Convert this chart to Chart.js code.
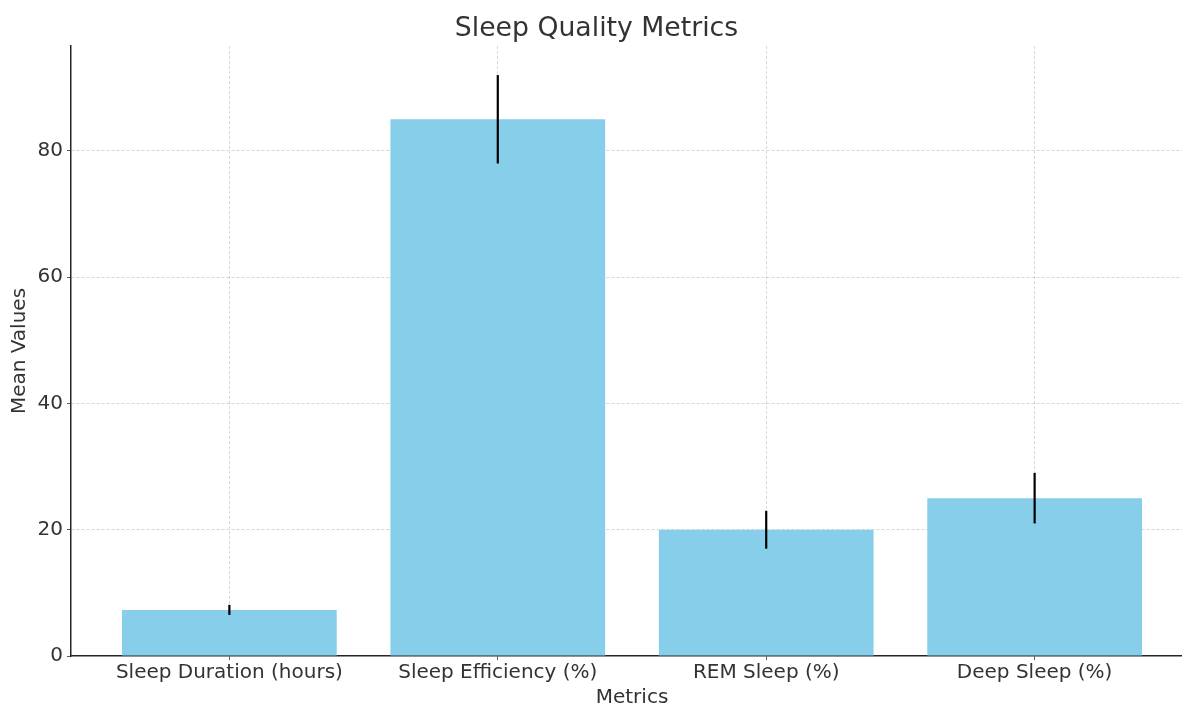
<!DOCTYPE html>
<html>
<head>
<meta charset="utf-8">
<script src="https://cdn.jsdelivr.net/npm/chart.js@4/dist/chart.umd.min.js"></script>
<style>
  html, body { margin: 0; padding: 0; background: #fff; overflow: hidden; }
  #wrap { width: 1210px; height: 707px; }
</style>
</head>
<body>
<div id="wrap"><canvas id="chart" width="1210" height="707"></canvas></div>
<script>
// data
const metrics = ['Sleep Duration (hours)', 'Sleep Efficiency (%)', 'REM Sleep (%)', 'Deep Sleep (%)'];
const meanValues = [7.3, 85, 20, 25];
const errors = [0.8, 7, 3, 4];
const yTicks = [0, 20, 40, 60, 80];

const textColor = '#333333';
const gridColor = 'rgba(128,128,128,0.4)';
const font = { family: 'DejaVu Sans', size: 20 };

// error bars drawn on top using the chart's own scales
const errorBars = {
    id: 'errorBars',
    afterDraw(chart) {
        const ctx = chart.ctx;
        const x = chart.scales.x;
        const y = chart.scales.y;
        ctx.save();
        ctx.strokeStyle = '#000';
        ctx.lineWidth = 2.2;
        meanValues.forEach((v, i) => {
            const px = x.getPixelForValue(i);
            ctx.beginPath();
            ctx.moveTo(px, y.getPixelForValue(v - errors[i]));
            ctx.lineTo(px, y.getPixelForValue(v + errors[i]));
            ctx.stroke();
        });
        ctx.restore();
    }
};

const context = document.getElementById('chart').getContext('2d');
new Chart(context, {
    type: 'bar',
    data: {
        datasets: [{
            label: 'Mean Values',
            data: meanValues.map((v, i) => ({ x: i, y: v })),
            backgroundColor: '#87CEEB',
            borderWidth: 0,
            barPercentage: 0.8,
            categoryPercentage: 1.0
        }]
    },
    options: {
        responsive: false,
        animation: false,
        layout: { padding: { left: 0, right: 17, top: 0, bottom: 0 } },
        plugins: {
            legend: { display: false },
            tooltip: { enabled: false },
            title: {
                display: true,
                text: 'Sleep Quality Metrics',
                color: textColor,
                font: { family: 'DejaVu Sans', size: 26.7, weight: 'normal' },
                padding: { top: 13, bottom: 1 }
            }
        },
        scales: {
            x: {
                type: 'linear',
                min: -0.59,
                max: 3.59,
                offset: false,
                z: 1,
                afterBuildTicks: scale => { scale.ticks = metrics.map((m, i) => ({ value: i })); },
                afterFit: scale => { scale.height = 51; },
                ticks: {
                    color: textColor,
                    font: font,
                    padding: 1,
                    maxRotation: 0,
                    autoSkip: false,
                    callback: v => metrics[v]
                },
                grid: {
                    offset: false,
                    color: gridColor,
                    lineWidth: 0.8,
                    tickLength: 4,
                    tickColor: '#333'
                },
                border: { display: true, color: '#262626', width: 1.5, dash: [3, 2] },
                title: {
                    display: true,
                    text: 'Metrics',
                    color: textColor,
                    font: font,
                    padding: { top: 0, bottom: -3 }
                }
            },
            y: {
                min: 0,
                max: 96.6,
                z: 1,
                afterBuildTicks: scale => { scale.ticks = yTicks.map(v => ({ value: v })); },
                afterFit: scale => { scale.width = 71; },
                ticks: {
                    color: textColor,
                    font: font,
                    padding: 4
                },
                grid: {
                    color: ctx => ctx.tick && ctx.tick.value === 0 ? 'rgba(0,0,0,0)' : gridColor,
                    lineWidth: 0.8,
                    tickLength: 4,
                    tickColor: '#333'
                },
                border: { display: true, color: '#262626', width: 1.5, dash: [3, 2] },
                title: {
                    display: true,
                    text: 'Mean Values',
                    color: textColor,
                    font: font,
                    padding: { top: 8, bottom: 0 }
                }
            }
        }
    },
    plugins: [errorBars]
});
</script>
</body>
</html>
